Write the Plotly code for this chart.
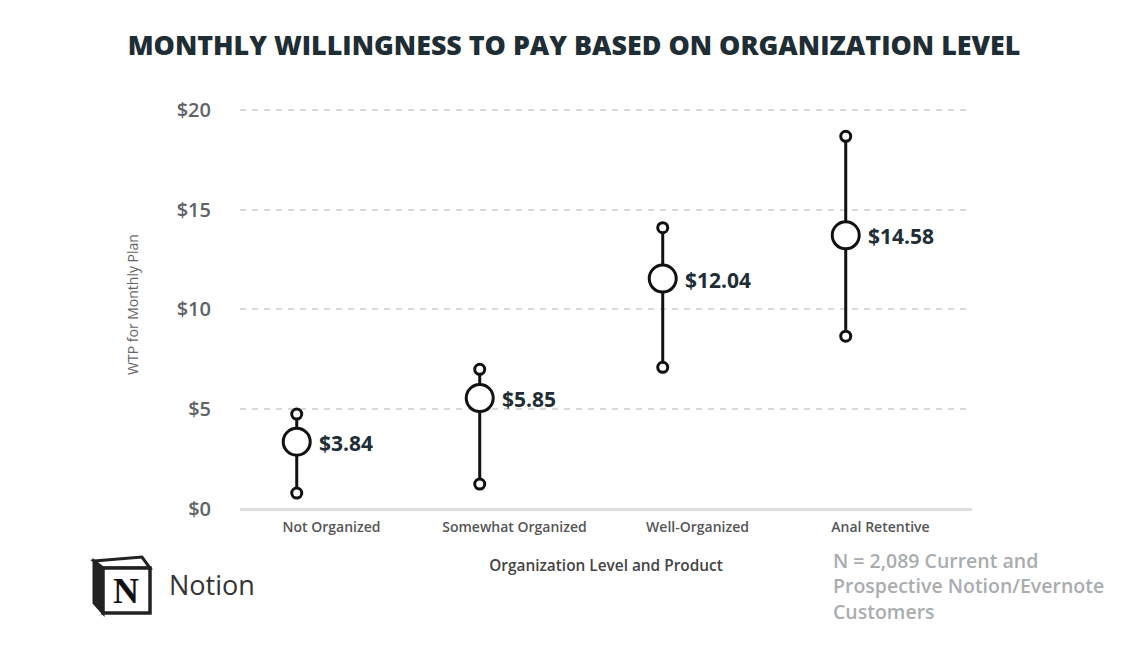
import plotly.graph_objects as go

categories = ["Not Organized", "Somewhat Organized", "Well-Organized", "Anal Retentive"]
means = [3.37, 5.56, 11.55, 13.72]
lows = [0.8, 1.25, 7.1, 8.66]
highs = [4.76, 7.0, 14.1, 18.68]
mean_labels = ["$3.84", "$5.85", "$12.04", "$14.58"]
y_ticks = [0, 5, 10, 15, 20]
y_ticktext = ["$0", "$5", "$10", "$15", "$20"]
footnote_lines = ["N = 2,089 Current and", "Prospective Notion/Evernote", "Customers"]

offset = -0.19
xpos = [i + offset for i in range(len(categories))]

W, H = 1148, 645
ML, MR, MT, MB = 240, 176, 100, 136
PW, PH = W - ML - MR, H - MT - MB


def px(x, y):
    return (x - ML) / PW, (H - MB - y) / PH


def path(points):
    s = ""
    for i, (x, y) in enumerate(points):
        a, b = px(x, y)
        s += ("M" if i == 0 else "L") + f"{a:.5f},{b:.5f} "
    return s + "Z"


fig = go.Figure()
for x, lo, hi in zip(xpos, lows, highs):
    fig.add_trace(go.Scatter(
        x=[x, x], y=[lo, hi], mode="lines+markers",
        line=dict(color="#111111", width=3),
        marker=dict(size=10, color="white", line=dict(color="#111111", width=3)),
        showlegend=False, hoverinfo="skip"))

fig.add_trace(go.Scatter(
    x=xpos, y=means, mode="markers",
    marker=dict(size=27, color="white", line=dict(color="#111111", width=3)),
    showlegend=False))

for x, m, lab in zip(xpos, means, mean_labels):
    fig.add_annotation(x=x, y=m, text=lab, showarrow=False, xanchor="left", yanchor="middle",
                       xshift=20, yshift=-1,
                       font=dict(family="Open Sans", size=21, color="#1f2d35", weight=700))

fig.update_layout(
    width=W, height=H,
    margin=dict(l=ML, r=MR, t=MT, b=MB),
    paper_bgcolor="white", plot_bgcolor="white",
    title=dict(text="MONTHLY WILLINGNESS TO PAY BASED ON ORGANIZATION LEVEL",
               x=0.5, xanchor="center", y=0.93, yanchor="middle",
               font=dict(family="Open Sans", size=26.8, color="#1f2d35", weight=800)),
    xaxis=dict(range=[-0.5, 3.5], tickvals=list(range(len(categories))), ticktext=categories,
               showgrid=False, zeroline=False, showline=False, ticks="",
               ticklabelstandoff=8,
               tickfont=dict(family="Open Sans", size=14, color="#555555", weight=600),
               title=dict(text="Organization Level and Product", standoff=25,
                          font=dict(family="Open Sans", size=15.4, color="#444444", weight=600))),
    yaxis=dict(range=[0, 20.5], tickvals=y_ticks, ticktext=y_ticktext,
               showgrid=True, gridcolor="#d9d9d9", griddash="6px,6px", gridwidth=2,
               zeroline=True, zerolinecolor="#dddddd", zerolinewidth=3,
               showline=False, ticks="", ticklabelstandoff=28,
               tickfont=dict(family="Open Sans", size=20, color="#5f6368", weight=600),
               title=dict(text="WTP for Monthly Plan", standoff=34,
                          font=dict(family="Open Sans", size=14, color="#666666"))),
)

# Notion logo (approximation of the cube icon)
fig.add_shape(type="path", xref="paper", yref="paper",
              path=path([(94, 561), (103, 568), (103, 613), (94, 603)]),
              line=dict(color="#222222", width=3), fillcolor="#222222")
fig.add_shape(type="path", xref="paper", yref="paper",
              path=path([(94, 561), (142, 557), (150, 568), (103, 568)]),
              line=dict(color="#222222", width=3), fillcolor="white")
fig.add_shape(type="path", xref="paper", yref="paper",
              path=path([(103, 568), (150, 568), (150, 613), (103, 613)]),
              line=dict(color="#222222", width=3.5), fillcolor="white")
nx, ny = px(126, 591)
fig.add_annotation(xref="paper", yref="paper", x=nx, y=ny, xanchor="center", yanchor="middle",
                   text="N", showarrow=False,
                   font=dict(family="Liberation Serif", size=36, color="#111111", weight=700))
tx, ty = px(167, 584)
fig.add_annotation(xref="paper", yref="paper", x=tx, y=ty, xanchor="left", yanchor="middle",
                   text="Notion", showarrow=False,
                   font=dict(family="Open Sans", size=27, color="#333333"))

fx, fy = px(831, 545)
fig.add_annotation(xref="paper", yref="paper", x=fx, y=fy,
                   xanchor="left", yanchor="top", align="left",
                   text="<br>".join(footnote_lines), showarrow=False,
                   font=dict(family="Open Sans", size=19.5, color="#a9adb0", weight=600))

fig.write_html("out.html", config={"displayModeBar": False},
               post_script="document.body.style.margin='0px';")
